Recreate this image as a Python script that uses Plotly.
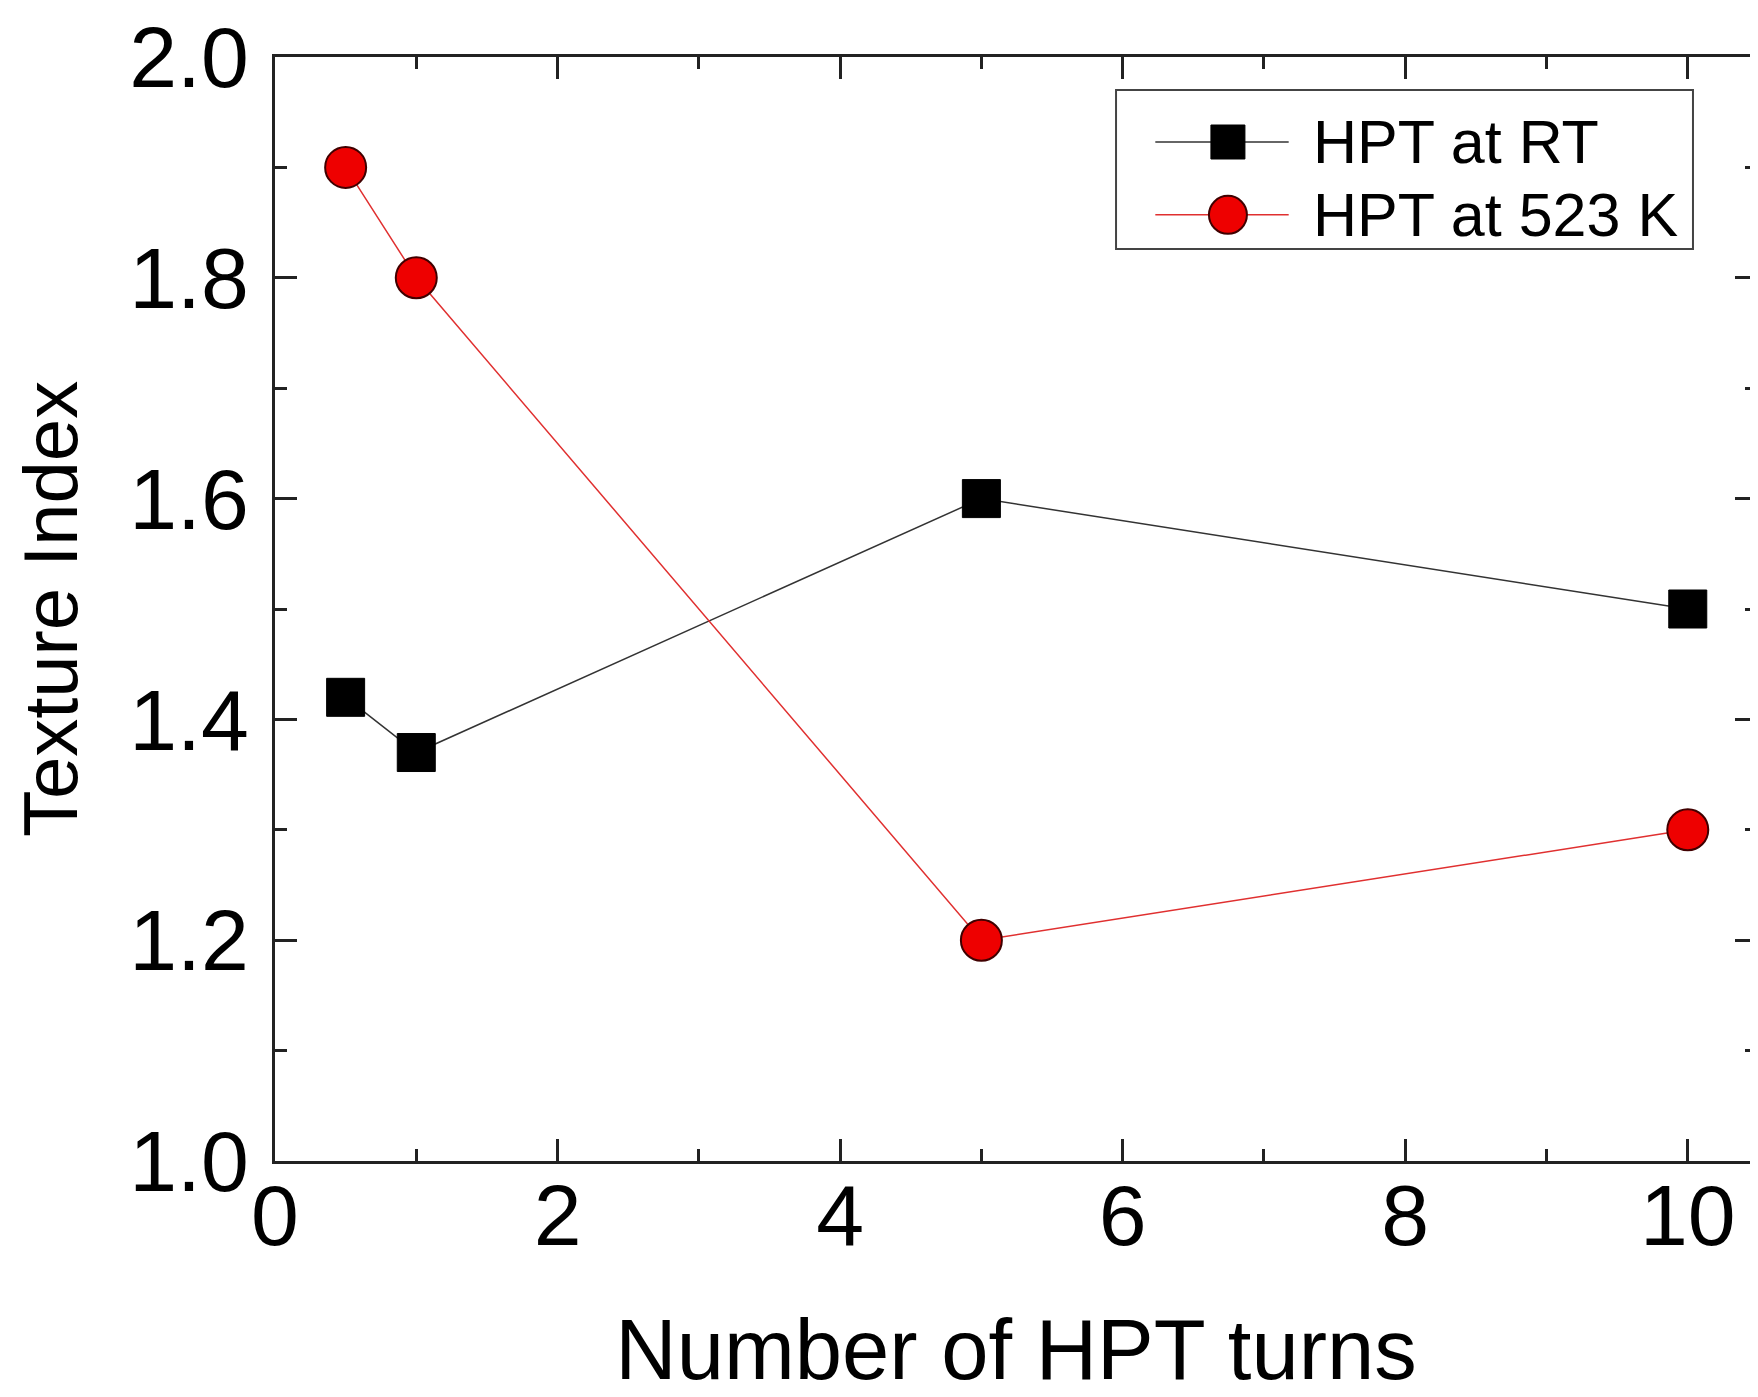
import plotly.graph_objects as go

turns = [0.5, 1, 5, 10]
ti_rt = [1.42, 1.37, 1.60, 1.50]
ti_523 = [1.90, 1.80, 1.20, 1.30]
series_names = ["HPT at RT", "HPT at 523 K"]

FONT = "Liberation Sans, Arial, sans-serif"
RT_LINE = "#333333"
K_LINE = "#e03030"

fig = go.Figure()
fig.add_trace(go.Scatter(
    x=turns, y=ti_rt, name=series_names[0], mode="lines+markers",
    line=dict(color=RT_LINE, width=1.5),
    marker=dict(symbol="square", size=38, color="black", line=dict(color="black", width=1)),
    showlegend=False,
))
fig.add_trace(go.Scatter(
    x=turns, y=ti_523, name=series_names[1], mode="lines+markers",
    line=dict(color=K_LINE, width=1.5),
    marker=dict(symbol="circle", size=41, color="#ee0000", line=dict(color="#400000", width=2)),
    showlegend=False,
))

# ---- custom legend (drawn on an invisible overlay axis spanning the plot area) ----
leg_x0, leg_x1, leg_y0, leg_y1 = 0.5675, 0.9568, 0.826, 0.970
row_y = [0.923, 0.857]
samp_x0, samp_x1, samp_xm, text_x = 0.594, 0.684, 0.643, 0.699
fig.add_shape(type="rect", xref="paper", yref="paper",
              x0=leg_x0, x1=leg_x1, y0=leg_y0, y1=leg_y1,
              line=dict(color="#444444", width=2), fillcolor="white", layer="below")
leg_styles = [
    dict(line=RT_LINE, symbol="square", size=34, color="black", lc="black", lw=1),
    dict(line=K_LINE, symbol="circle", size=38, color="#ee0000", lc="#400000", lw=2),
]
for name, yy, st in zip(series_names, row_y, leg_styles):
    fig.add_trace(go.Scatter(
        x=[samp_x0, samp_x1], y=[yy, yy], xaxis="x2", yaxis="y2", mode="lines",
        line=dict(color=st["line"], width=1.5), showlegend=False, hoverinfo="skip"))
    fig.add_trace(go.Scatter(
        x=[samp_xm], y=[yy], xaxis="x2", yaxis="y2", mode="markers",
        marker=dict(symbol=st["symbol"], size=st["size"], color=st["color"],
                    line=dict(color=st["lc"], width=st["lw"])),
        showlegend=False, hoverinfo="skip"))
    fig.add_annotation(x=text_x, y=yy, xref="paper", yref="paper", text=name,
                       showarrow=False, xanchor="left", yanchor="middle",
                       font=dict(family=FONT, size=61, color="black"))

axis_common = dict(
    showline=True, linecolor="#222222", linewidth=3, mirror="ticks",
    ticks="inside", ticklen=22, tickwidth=3, tickcolor="#222222",
    showgrid=False, zeroline=False, automargin=False,
    tickfont=dict(family=FONT, size=86, color="black"),
)

fig.update_xaxes(
    range=[0, 10.49], tick0=0, dtick=2,
    minor=dict(ticks="inside", ticklen=12, tickwidth=3, dtick=1, tickcolor="#222222"),
    title=dict(text="Number of HPT turns", font=dict(family=FONT, size=85, color="black"), standoff=64),
    ticklabelstandoff=-22,
    **axis_common,
)
fig.update_yaxes(
    range=[1.0, 2.0], tick0=1.0, dtick=0.2, tickformat=".1f",
    minor=dict(ticks="inside", ticklen=12, tickwidth=3, dtick=0.1, tickcolor="#222222"),
    title=dict(text="Texture Index", font=dict(family=FONT, size=76, color="black"), standoff=30),
    ticklabelstandoff=6,
    **axis_common,
)

fig.update_layout(
    width=1750, height=1389,
    margin=dict(l=267, r=1, t=49, b=236),
    plot_bgcolor="white", paper_bgcolor="white",
    showlegend=False,
    xaxis2=dict(overlaying="x", range=[0, 1], visible=False, anchor="y2"),
    yaxis2=dict(overlaying="y", range=[0, 1], visible=False, anchor="x2"),
)

fig.write_html("out.html")
